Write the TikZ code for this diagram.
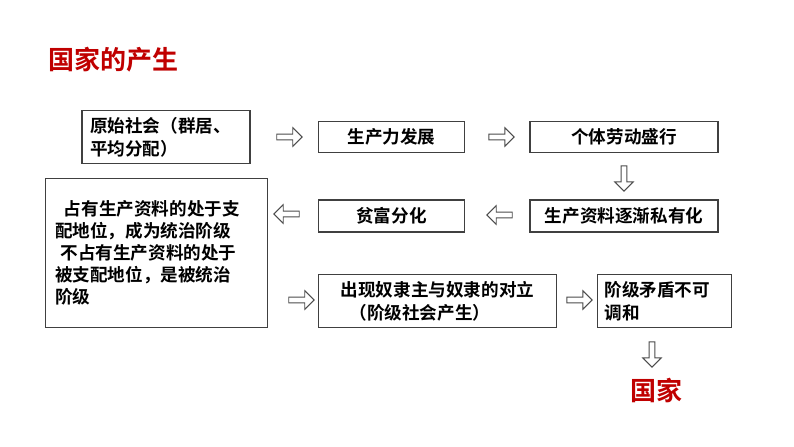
\documentclass[tikz,border=0pt]{standalone}
\usepackage{fontspec}
\setmainfont{Noto Sans CJK SC}[BoldFont={Noto Sans CJK SC Bold}]
\usetikzlibrary{shapes.arrows}
\definecolor{tred}{RGB}{192,0,0}
\tikzset{
 bx/.style={draw=black!75,line width=0.8pt,font=\bfseries\fontsize{13.2}{17.5}\selectfont,align=left,inner sep=0pt},
 harr/.style={single arrow,draw=black!70,fill=white,line width=0.7pt,minimum width=14pt,minimum height=19pt,single arrow head extend=3pt,inner sep=1pt},
 ttl/.style={text=tred,font=\bfseries\fontsize{19.5}{22}\selectfont}
}
\begin{document}
\begin{tikzpicture}[x=0.75pt,y=-0.75pt]
\useasboundingbox (0,0) rectangle (794,447);
\fill[white] (0,0) rectangle (794,447);
\node[ttl,anchor=west] (title) at (44,60) {国家的产生};
\node[bx,minimum width=126pt,minimum height=40pt,text width=114pt] (b1) at (166,137) {原始社会（群居、\\平均分配）};
\node[bx,minimum width=110pt,minimum height=23pt,align=center] (b2) at (391.5,137) {生产力发展};
\node[bx,minimum width=141pt,minimum height=23pt,align=center] (b3) at (624,137) {个体劳动盛行};
\node[bx,minimum width=141pt,minimum height=24pt,align=center] (b4) at (624,216) {生产资料逐渐私有化};
\node[bx,minimum width=110pt,minimum height=24pt,align=center] (b5) at (391.5,216) {贫富分化};
\node[bx,minimum width=167pt,minimum height=112pt,text width=152pt,font=\bfseries\fontsize{13.2}{16.5}\selectfont] (b6) at (156.5,253) {\hspace*{0.5em}占有生产资料的处于支\\配地位，成为统治阶级\\\hspace*{0.3em}不占有生产资料的处于\\被支配地位，是被统治\\阶级\\[3pt]};
\node[bx,minimum width=179pt,minimum height=40pt,align=center] (b7) at (437.5,301) {出现奴隶主与奴隶的对立\\（阶级社会产生）\hspace*{2em}};
\node[bx,minimum width=101pt,minimum height=40pt,text width=90pt] (b8) at (664.5,301) {阶级矛盾不可\\调和};
\node[ttl,anchor=west] (st) at (626,390) {国家};
\node[harr] (a1) at (288,137) {};
\node[harr] (a2) at (500,137) {};
\node[harr,shape border rotate=270] (a3) at (624,177) {};
\node[harr,shape border rotate=180] (a4) at (501,215) {};
\node[harr,shape border rotate=180] (a5) at (288,214) {};
\node[harr] (a6) at (300,300) {};
\node[harr] (a7) at (578,300) {};
\node[harr,shape border rotate=270] (a8) at (652,353) {};
\end{tikzpicture}
\end{document}
